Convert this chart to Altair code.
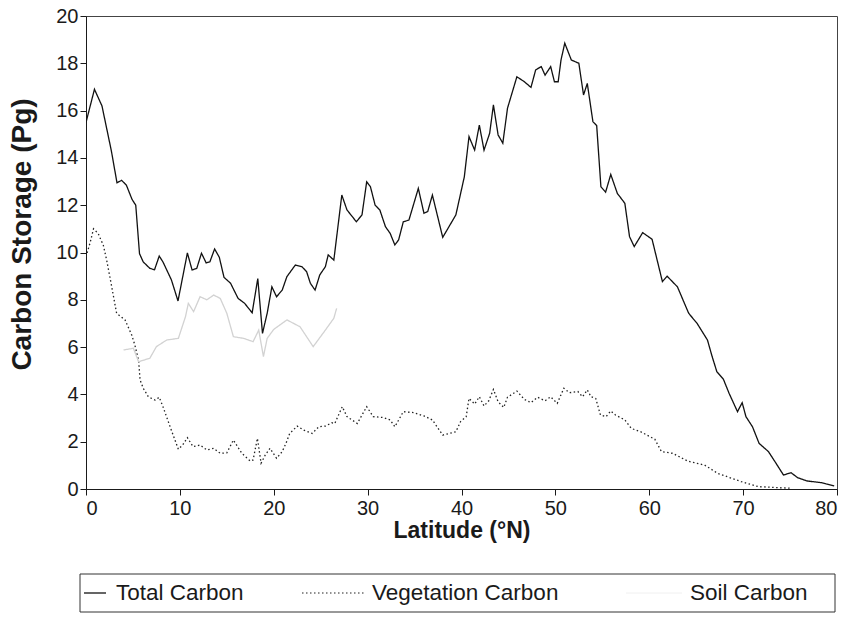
import altair as alt
import pandas as pd

series_names = ["Total Carbon", "Vegetation Carbon", "Soil Carbon"]

lat_total = [0, 0.9, 1.7, 2.7, 3.3, 3.8, 4.3, 4.9, 5.3, 5.7, 6.1, 6.8, 7.3, 7.8, 8.2, 9.1, 9.8,
             10.8, 11.3, 11.8, 12.3, 12.8, 13.2, 13.7, 14.2, 14.7, 15.4, 16.2, 16.9, 17.7, 18.3,
             18.8, 19.3, 19.8, 20.3, 20.9, 21.4, 22.3, 23.0, 23.5, 23.9, 24.4, 24.9, 25.5, 25.8,
             26.4, 27.25, 27.8, 28.8, 29.4, 29.9, 30.3, 30.8, 31.3, 31.9, 32.4, 32.9, 33.3, 33.8,
             34.4, 35.4, 36.0, 36.4, 36.9, 38.0, 39.4, 40.3, 40.8, 41.4, 41.9, 42.4, 43.0, 43.4,
             43.9, 44.4, 44.9, 45.9, 46.7, 47.4, 47.9, 48.5, 48.9, 49.5, 49.9, 50.3, 50.6, 51.0,
             51.7, 52.5, 53.0, 53.4, 54.0, 54.4, 54.85, 55.35, 55.9, 56.6, 57.4, 57.9, 58.4, 59.3,
             60.3, 61.4, 61.9, 63.0, 64.2, 65.1, 66.2, 66.7, 67.2, 67.9, 68.5, 69.4, 69.9, 70.3,
             71.0, 71.7, 72.7, 73.5, 74.3, 75.1, 75.8, 76.8, 78.3, 79.7]
total_carbon = [15.5, 16.9, 16.2, 14.3, 12.95, 13.05, 12.85, 12.25, 12.0, 9.95, 9.6, 9.33, 9.27,
                9.85, 9.6, 8.84, 7.95, 9.98, 9.26, 9.33, 9.97, 9.56, 9.61, 10.15, 9.8, 8.95, 8.7,
                8.06, 7.85, 7.45, 8.9, 6.58, 7.43, 8.55, 8.13, 8.41, 8.98, 9.47, 9.4, 9.19, 8.7,
                8.41, 9.05, 9.4, 9.9, 9.68, 12.43, 11.8, 11.3, 11.59, 12.99, 12.78, 12.0, 11.8,
                11.09, 10.81, 10.32, 10.53, 11.3, 11.37, 12.71, 11.66, 11.73, 12.43, 10.64, 11.59,
                13.2, 14.9, 14.33, 15.39, 14.33, 15.04, 16.24, 14.97, 14.62, 16.1, 17.43, 17.22,
                16.98, 17.72, 17.86, 17.5, 17.86, 17.22, 17.22, 18.14, 18.85, 18.14, 18.0, 16.66,
                17.15, 15.53, 15.37, 12.78, 12.55, 13.3, 12.5, 12.08, 10.67, 10.25, 10.84, 10.56,
                8.77, 9.0, 8.55, 7.43, 7.0, 6.3, 5.6, 4.96, 4.64, 4.05, 3.27, 3.65, 3.06, 2.63,
                1.93, 1.58, 1.09, 0.59, 0.69, 0.48, 0.34, 0.27, 0.13]

lat_veg = [0, 0.43, 0.8, 1.3, 1.85, 2.2, 2.67, 3.26, 4.16, 4.87, 5.2, 5.6, 5.76, 6.1, 6.64, 7.36,
           7.8, 8.2, 8.96, 9.84, 10.3, 10.8, 11.4, 12.15, 12.87, 13.6, 14.3, 15.0, 15.7, 16.6,
           17.5, 17.8, 18.26, 18.65, 19.1, 19.6, 20.3, 20.9, 21.3, 21.7, 22.5, 23.2, 24.1, 24.8,
           25.5, 26.2, 26.5, 27.3, 27.8, 28.9, 29.9, 30.6, 31.7, 32.4, 32.9, 33.8, 34.9, 36.0,
           36.9, 38.0, 39.4, 39.9, 40.5, 40.8, 41.4, 41.9, 42.4, 42.9, 43.4, 43.9, 44.5, 44.9,
           45.9, 46.7, 47.4, 48.1, 48.9, 49.5, 50.2, 50.9, 51.5, 52.4, 52.9, 53.4, 53.8, 54.3,
           54.8, 55.4, 55.9, 56.4, 57.4, 58.1, 59.1, 60.6, 61.3, 62.5, 64.1, 65.9, 67.3, 69.8,
           71.6, 75.1]
veg_carbon = [9.82, 10.4, 11.0, 10.8, 10.3, 9.68, 8.7, 7.43, 7.15, 6.51, 6.09, 5.45, 4.61, 4.26,
              3.9, 3.76, 3.88, 3.48, 2.63, 1.68, 1.86, 2.17, 1.79, 1.86, 1.65, 1.72, 1.51, 1.53,
              2.07, 1.51, 1.18, 1.23, 2.14, 1.09, 1.44, 1.72, 1.3, 1.58, 1.93, 2.35, 2.66, 2.49,
              2.35, 2.63, 2.66, 2.8, 2.77, 3.48, 3.06, 2.77, 3.48, 3.06, 3.02, 2.92, 2.63, 3.27,
              3.23, 3.09, 2.92, 2.28, 2.42, 2.85, 3.06, 3.83, 3.59, 3.9, 3.51, 3.73, 4.21, 3.69,
              3.45, 3.88, 4.14, 3.79, 3.65, 3.88, 3.73, 3.9, 3.62, 4.26, 4.07, 4.12, 3.9, 4.19,
              3.9, 3.83, 3.13, 3.06, 3.3, 3.13, 2.92, 2.56, 2.42, 2.1, 1.58, 1.51, 1.18, 1.01,
              0.66, 0.31, 0.1, 0.03]

lat_soil = [4.0, 5.05, 5.6, 6.8, 7.5, 8.6, 9.84, 10.6, 10.9, 11.46, 12.15, 12.87, 13.6, 14.3,
            15.0, 15.7, 16.8, 17.8, 18.4, 18.9, 19.3, 20.0, 21.4, 22.8, 24.2, 25.5, 26.4, 26.7]
soil_carbon = [5.88, 5.95, 5.38, 5.53, 6.02, 6.3, 6.37, 7.29, 7.85, 7.5, 8.13, 8.0, 8.2, 8.06,
               7.43, 6.44, 6.37, 6.23, 6.72, 5.6, 6.37, 6.75, 7.15, 6.86, 6.02, 6.72, 7.22, 7.64]

x_ticks = [0, 10, 20, 30, 40, 50, 60, 70, 80]
y_ticks = [0, 2, 4, 6, 8, 10, 12, 14, 16, 18, 20]

rows = []
for la, v in zip(lat_total, total_carbon):
    rows.append({"lat": la, "value": v, "series": series_names[0]})
for la, v in zip(lat_veg, veg_carbon):
    rows.append({"lat": la, "value": v, "series": series_names[1]})
for la, v in zip(lat_soil, soil_carbon):
    rows.append({"lat": la, "value": v, "series": series_names[2]})
df = pd.DataFrame(rows)

FONT = "Liberation Sans"
INK = "#1a1a1a"

lines = alt.Chart(df).mark_line(strokeWidth=1.3, clip=True).encode(
    x=alt.X("lat:Q", scale=alt.Scale(domain=[0, 80], nice=False),
            axis=alt.Axis(values=x_ticks, title="Latitude (°N)", grid=False,
                          tickSize=6, labelFontSize=20, labelFont=FONT, labelColor=INK,
                          labelPadding=3, domainColor=INK, tickColor=INK,
                          titleFont=FONT, titleFontSize=23, titleFontWeight="bold",
                          titleColor=INK, titleY=48, titleBaseline="alphabetic")),
    y=alt.Y("value:Q", scale=alt.Scale(domain=[0, 20], nice=False),
            axis=alt.Axis(values=y_ticks, title="Carbon Storage (Pg)", grid=False,
                          tickSize=6, labelFontSize=20, labelFont=FONT, labelColor=INK,
                          labelPadding=2, domainColor=INK, tickColor=INK,
                          titleFont=FONT, titleFontSize=28, titleFontWeight="bold",
                          titleColor=INK, titleX=-56, titleY=218,
                          titleBaseline="alphabetic")),
    color=alt.Color("series:N", scale=alt.Scale(domain=series_names,
                                                range=["#111111", "#222222", "#d2d2d2"]),
                    legend=None),
    strokeDash=alt.StrokeDash("series:N", scale=alt.Scale(domain=series_names,
                                                          range=[[1, 0], [1.5, 2.5], [1, 0]]),
                              legend=None),
    detail="series:N",
)

one = alt.Data(values=[{}])

legend_box = alt.Chart(one).mark_rect(fill="white", fillOpacity=0, stroke="#333",
                                      strokeWidth=1).encode(
    x=alt.value(-6), x2=alt.value(749), y=alt.value(558), y2=alt.value(596))
total_sample = alt.Chart(one).mark_rule(color="#111", strokeWidth=1.3).encode(
    x=alt.value(-2), x2=alt.value(20), y=alt.value(577))
veg_sample = alt.Chart(one).mark_rule(color="#222", strokeWidth=1.2,
                                      strokeDash=[1.5, 2.5]).encode(
    x=alt.value(216), x2=alt.value(279), y=alt.value(577))
soil_sample = alt.Chart(one).mark_rule(color="#f0f0f0", strokeWidth=1).encode(
    x=alt.value(540), x2=alt.value(596), y=alt.value(577))

def legend_text(label, xpos):
    return alt.Chart(one).mark_text(align="left", baseline="middle", font=FONT,
                                    fontSize=22.5, color=INK).encode(
        x=alt.value(xpos), y=alt.value(577), text=alt.value(label))

chart = alt.layer(
    lines, legend_box, total_sample, veg_sample, soil_sample,
    legend_text(series_names[0], 30),
    legend_text(series_names[1], 286),
    legend_text(series_names[2], 604),
).properties(
    width=751, height=473,
    padding={"left": 86, "top": 16, "right": 11, "bottom": 130},
    autosize=alt.AutoSizeParams(type="none"),
    background="white",
).configure_view(stroke="#444", strokeWidth=1)

chart.save("out.html", embed_options={"renderer": "svg", "actions": False})
